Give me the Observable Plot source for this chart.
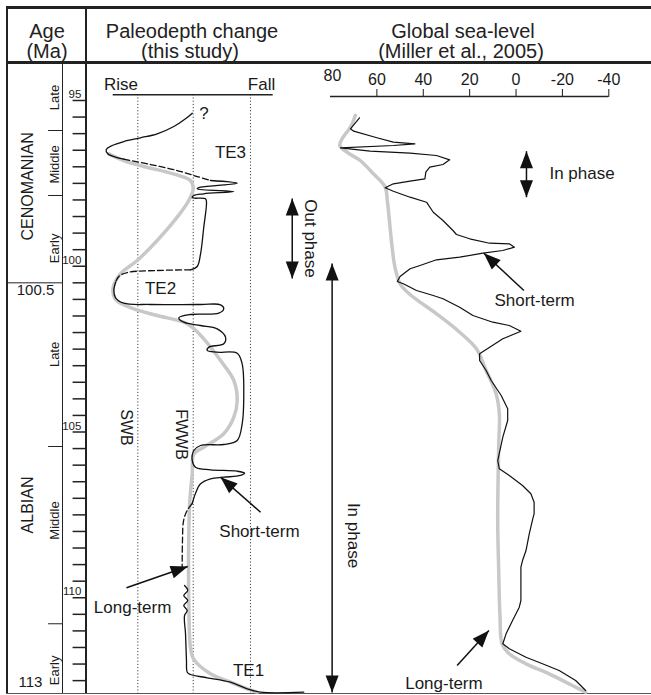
<!DOCTYPE html>
<html><head><meta charset="utf-8">
<script src="https://cdn.jsdelivr.net/npm/d3@7"></script>
<script src="https://cdn.jsdelivr.net/npm/@observablehq/plot@0.6"></script>
<style>
body{margin:0;background:#fff}
#wrap{position:relative;width:651px;height:695px;overflow:hidden;background:#fff;font-family:"Liberation Sans",Arial,Helvetica,sans-serif;color:#222}
.ln{position:absolute;background:#222}
.ht{position:absolute;font-size:20px;line-height:20px;white-space:nowrap;transform:translate(-50%,-50%)}
</style></head><body><div id="wrap"></div><script>
// ---------- DATA ----------
const headerAge = ["Age", "(Ma)"];
const headerDepth = ["Paleodepth change", "(this study)"];
const headerSea = ["Global sea-level", "(Miller et al., 2005)"];

const ageTicks = [95,95.5,96,96.5,97,97.5,98,98.5,99,99.5,100,100.5,101,101.5,102,102.5,103,103.5,104,104.5,105,105.5,106,106.5,107,107.5,108,108.5,109,109.5,110,110.5,111,111.5,112,112.5];
const ageLabels = [95, 100, 105, 110];
const stages = ["CENOMANIAN", "ALBIAN"];
const stageAt = [97.59, 107.2];
const substages = ["Late", "Middle", "Early", "Late", "Middle", "Early"];
const substageAt = [94.91, 96.93, 99.46, 102.66, 107.67, 112.19];
const substageBounds = [95.905, 97.866, 105.437, 110.785];
const stageBoundary = 100.5;
const edgeLabels = ["100.5", "113"];
const edgeAt = [100.73, 112.56];

const seaTicks = [60, 40, 20, 0, -20, -40];
const barriers = [15.4, 50, 85.8];   // SWB, FWWB, third level (relative depth units)

// paleodepth change (black), [age Ma, relative depth]
const paleoSolid1 = [[95.383,49.4],[95.552,45.2],[95.784,37.9],[96.005,27.5],[96.125,17.1],[96.237,6.6],[96.357,-0.6],[96.487,-4.4],[96.608,-3.4],[96.71,1.4],[96.771,6.6]];
const paleoDash1 = [[96.771,6.6],[96.931,23.3],[97.112,40],[97.293,52.5],[97.413,60.8]];
const paleoSolid2 = [[97.413,60.8],[97.495,77.5],[97.615,54.6],[97.664,52.5],[97.745,75.4],[97.814,56.6],[97.866,50.4],[97.935,49.4],[97.965,57.7],[98.068,58.3],[98.822,56.6],[99.624,54.6],[100.008,52.5],[100.107,48.3]];
const paleoDash2 = [[100.107,48.3],[100.128,27.5],[100.189,8.75],[100.309,3.5],[100.481,1.5]];
const paleoSolid3 = [[100.481,1.5],[100.731,0.4],[100.943,1.4],[101.115,6.6],[101.154,23.3],[101.154,54.6],[101.163,67.1],[101.284,69.1],[101.416,66],[101.456,48.3],[101.555,41],[101.688,44.1],[101.787,54.6],[101.887,65],[102.14,70.2],[102.339,69.1],[102.442,59.75],[102.541,58.75],[102.593,65],[102.623,77.5],[102.943,80.6],[103.95,81.6],[104.753,80.6],[105.256,77.5],[105.377,69.1],[105.407,54.6],[105.558,50.4],[105.86,49.4],[106.062,51.4],[106.14,60.8],[106.183,77.5],[106.243,82.1],[106.312,79.6],[106.364,69.1],[106.412,60.8],[106.563,54.6],[106.855,51.4],[107.157,49.4]];
const paleoDash3 = [[107.157,49.4],[107.368,46.25],[107.67,44],[108.273,43.3],[109.088,43.1]];
const paleoSolid4 = [[109.63,44.6],[109.781,46.6],[109.932,44.1],[110.083,46.6],[110.234,44.1],[110.385,46.25],[110.535,44.6],[111.088,45.2],[111.893,45.8],[112.246,46.25],[112.315,48.3],[112.415,58.75],[112.548,73.3],[112.747,83.75],[112.849,92.1],[112.849,119.1]];
// paleodepth long-term trend (grey)
const paleoLong = [[96.608,-2.75],[96.81,6.6],[96.991,19.1],[97.163,33.75],[97.314,44.1],[97.413,48.3],[97.664,50],[98.017,47.25],[98.52,40],[99.223,27.5],[99.827,15],[100.228,4.6],[100.632,0],[100.93,0.6],[101.05,2.5],[101.284,12.9],[101.486,27.5],[101.736,46.25],[102.189,56.6],[102.843,67.1],[103.446,75.4],[104.05,77.5],[104.554,75.4],[105.054,69.1],[105.459,56.6],[105.658,50.4],[106.261,49.4],[107.066,47.9],[108.062,47.25],[110.083,47.25],[111.492,48.3],[111.86,50.4],[112.294,60.8],[112.548,73.3],[112.747,83.75],[112.849,90]];

// global sea level (Miller et al., 2005), [age Ma, metres]
const seaLevel = [[95.522,67.5],[95.854,71.4],[95.926,70],[96.125,60],[96.258,52.9],[96.306,43.6],[96.357,52.9],[96.427,75.7],[96.529,62.9],[96.59,45.7],[96.659,34.3],[96.789,28.6],[96.931,31.5],[97.012,37.2],[97.163,38.9],[97.362,39.3],[97.434,45.7],[97.513,52.9],[97.634,56.4],[97.736,52.9],[97.917,45.7],[98.068,38.6],[98.37,35.7],[98.62,31.5],[98.922,27.2],[99.042,25.7],[99.172,20],[99.305,11.4],[99.323,2.9],[99.425,0.7],[99.525,5.7],[99.606,14.3],[99.727,24.3],[99.805,34.3],[99.977,41.4],[100.077,45.7],[100.309,50],[100.46,51.2],[100.529,48.6],[100.731,42.9],[100.882,35.7],[100.982,31.5],[101.235,24.3],[101.486,18.6],[101.688,10],[101.787,2.9],[101.959,-2.1],[102.189,5.7],[102.641,15.7],[102.843,15.7],[103.145,12.9],[103.446,10.7],[103.899,6.4],[104.3,3.6],[104.653,3.6],[105.157,5.7],[105.86,7.9],[106.11,7.2],[106.312,2.9],[106.614,-2.8],[106.864,-6.4],[107.118,-7.8],[107.468,-7.8],[107.57,-7.4],[108.071,-5.7],[108.575,-4.3],[108.877,-2.8],[109.078,-2.1],[110.083,-2.1],[110.285,-1.4],[110.686,1.5],[111.088,4.3],[111.389,5.7],[111.54,2.9],[111.794,-4.3],[111.993,-11.4],[112.195,-18.6],[112.497,-25.7],[112.798,-30]];
const seaLong = [[95.452,69.3],[95.805,71.4],[96.155,75],[96.357,76],[96.56,72.9],[96.81,67.2],[97.211,61.5],[97.615,56.4],[98.017,55.5],[98.62,54.6],[99.323,53.6],[100.029,52.2],[100.529,50],[100.852,45.7],[101.434,34.3],[101.99,24.3],[102.49,17.1],[103.145,12.9],[103.848,8.6],[104.451,7.2],[105.459,7.5],[107.67,7.9],[109.078,7.5],[110.587,6.9],[111.389,6],[111.691,2.9],[111.993,-4.3],[112.294,-14.3],[112.647,-24.3],[112.849,-30]];

// annotations
const paleoNotes = [{t:"?",u:56.75,a:95.392},{t:"TE3",u:73.3,a:96.56},{t:"TE2",u:29.6,a:100.662},{t:"TE1",u:84.6,a:112.195},{t:"Short-term",u:91.4,a:108.0},{t:"Long-term",u:12.1,a:110.285}];
const paleoVertNotes = [{t:"SWB",u:8.3,a:104.864},{t:"FWWB",u:42.5,a:105.075}];
const paleoArrows = [{x1:92.1,y1:107.419,x2:67.1,y2:106.363,rot:-49},{x1:8.3,y1:109.7,x2:46.6,y2:109.057,rot:71}];
const seaNotesStart = [{t:"In phase",v:-14.4,a:97.202}];
const seaNotes = [{t:"Short-term",v:-8.0,a:101.033},{t:"Long-term",v:31.1,a:112.578}];
const seaVertNotes = [{t:"Out phase",v:88.6,a:99.163},{t:"In phase",v:70.1,a:108.122}];
const seaArrows = [{x1:-3.4,y1:100.731,x2:13.9,y2:99.606,rot:-47},{x1:25.4,y1:112.044,x2:11.7,y2:110.988,rot:42}];
const phaseArrows = [{v:96.5,a1:97.956,a2:100.37},{v:79.3,a1:99.917,a2:112.858},{v:-4.5,a1:96.529,a2:97.917}];

// ---------- LAYOUT ----------
const ff = '"Liberation Sans", Arial, Helvetica, sans-serif';
const wrap = document.getElementById("wrap");
const K = 33.15; // px per Ma
const yDom = top => [95 + (top - 100) / K, 95 + (693 - 100) / K];
const svgStyle = fs => `position:absolute;left:0;top:0;background:transparent;overflow:visible;font-family:${ff};font-size:${fs}px;color:#1a1a1a;`;
const base = (top, left, right, fs) => ({
  width: 651, height: 695, marginTop: top, marginBottom: 2, marginLeft: left, marginRight: 651 - right,
  style: svgStyle(fs), y: {domain: yDom(top), reverse: true, axis: null}
});
const head = {draw(ctx) { ctx.moveTo(0, 0); ctx.lineTo(6.5, 17); ctx.lineTo(-6.5, 17); ctx.closePath(); }};

function addLine(l, t, w, h, c) {
  const d = document.createElement("div"); d.className = "ln";
  Object.assign(d.style, {left: l + "px", top: t + "px", width: w + "px", height: h + "px"});
  if (c) d.style.background = c;
  wrap.appendChild(d);
}
function addText(txt, cx, cy) {
  const d = document.createElement("div"); d.className = "ht"; d.textContent = txt;
  d.style.left = cx + "px"; d.style.top = cy + "px"; wrap.appendChild(d);
}
addLine(6, 6, 645, 3);
addLine(6, 61, 645, 3);
addLine(6, 6, 1.5, 688);
addLine(85.3, 6, 1.5, 688);
addLine(61.5, 63, 1, 631);
addLine(6, 692.5, 645, 1.5, "#555");
addText(headerAge[0], 47, 31); addText(headerAge[1], 47, 51);
addText(headerDepth[0], 192, 31); addText(headerDepth[1], 190, 51);
addText(headerSea[0], 463, 31); addText(headerSea[1], 461, 51);

// age column
const agePlot = Plot.plot({
  ...base(63, 7, 86, 12),
  x: {domain: [0, 1], axis: null},
  marks: [
    Plot.ruleY(ageTicks, {y: d => d, x1: 0.83, x2: 1, stroke: "#222", strokeWidth: 1.5}),
    Plot.text(ageLabels, {x: 0.935, y: d => d, text: d => String(d), textAnchor: "end", dy: -6, fontSize: 11.5, fill: "#1a1a1a"}),
    Plot.ruleY([stageBoundary], {y: d => d, x1: 0, x2: 0.696, stroke: "#222", strokeWidth: 1}),
    Plot.ruleY(substageBounds, {y: d => d, x1: 0.52, x2: 0.696, stroke: "#222", strokeWidth: 1}),
    Plot.text(stages, {x: 0.253, y: (d, i) => stageAt[i], text: d => d, rotate: -90, fontSize: 16}),
    Plot.text(substages, {x: 0.595, y: (d, i) => substageAt[i], text: d => d, rotate: -90, fontSize: 13}),
    Plot.text(edgeLabels, {x: (d, i) => i ? 0.29 : 0.354, y: (d, i) => edgeAt[i], text: d => d, fontSize: 15})
  ]
});

// paleodepth panel
const seg = (arrs) => arrs.flatMap((s, k) => s.map(p => ({a: p[0], u: p[1], k})));
const depthPlot = Plot.plot({
  ...base(94.3, 112.7, 272.7, 16),
  x: {domain: [0, 100], axis: null},
  marks: [
    Plot.ruleY([yDom(94.3)[0]], {y: d => d, stroke: "#222", strokeWidth: 1.5}),
    Plot.text(["Rise", "Fall"], {x: (d, i) => i ? 92.7 : 4.9, frameAnchor: "top", lineAnchor: "middle", dy: -10, text: d => d, fontSize: 17}),
    Plot.ruleX(barriers, {x: d => d, stroke: "#222", strokeWidth: 1, strokeDasharray: "1,2.2"}),
    Plot.line(paleoLong, {x: d => d[1], y: d => d[0], stroke: "#c8c8c8", strokeWidth: 3.5, curve: "catmull-rom"}),
    Plot.line(seg([paleoSolid1, paleoSolid2, paleoSolid3, paleoSolid4]), {x: "u", y: "a", z: "k", stroke: "#111", strokeWidth: 1.3, curve: "catmull-rom"}),
    Plot.line(seg([paleoDash1, paleoDash2, paleoDash3]), {x: "u", y: "a", z: "k", stroke: "#111", strokeWidth: 1.3, strokeDasharray: "6,3", curve: "catmull-rom"}),
    Plot.text(paleoNotes, {x: "u", y: "a", text: "t", fontSize: 17}),
    Plot.text(paleoVertNotes, {x: "u", y: "a", text: "t", rotate: 90, fontSize: 16}),
    Plot.link(paleoArrows, {x1: "x1", y1: "y1", x2: "x2", y2: "y2", stroke: "#111", strokeWidth: 1.5}),
    Plot.dot(paleoArrows, {x: "x2", y: "y2", rotate: "rot", symbol: head, r: 8, fill: "#111", stroke: "none"})
  ]
});

// sea-level panel
const headsFor = arr => arr.flatMap(d => [{v: d.v, a: d.a1, rot: 0}, {v: d.v, a: d.a2, rot: 180}]);
const seaPlot = Plot.plot({
  ...base(96, 330, 608.3, 16),
  x: {domain: [80, -40], axis: "top", ticks: seaTicks, tickSize: 8, tickPadding: 4, tickFormat: d => String(d), label: null},
  marks: [
    Plot.ruleY([yDom(96)[0]], {y: d => d, stroke: "#222", strokeWidth: 1.5}),
    Plot.text(["80"], {x: 80, frameAnchor: "top", lineAnchor: "middle", dy: -21, dx: 2, text: d => d, fontSize: 16}),
    Plot.line(seaLong, {x: d => d[1], y: d => d[0], stroke: "#c8c8c8", strokeWidth: 3.5, curve: "catmull-rom"}),
    Plot.line(seaLevel, {x: d => d[1], y: d => d[0], stroke: "#111", strokeWidth: 1.2}),
    Plot.link(phaseArrows, {x1: "v", x2: "v", y1: "a1", y2: "a2", stroke: "#111", strokeWidth: 1.5}),
    Plot.dot(headsFor(phaseArrows), {x: "v", y: "a", rotate: "rot", symbol: head, r: 8, fill: "#111", stroke: "none"}),
    Plot.link(seaArrows, {x1: "x1", y1: "y1", x2: "x2", y2: "y2", stroke: "#111", strokeWidth: 1.5}),
    Plot.dot(seaArrows, {x: "x2", y: "y2", rotate: "rot", symbol: head, r: 8, fill: "#111", stroke: "none"}),
    Plot.text(seaNotesStart, {x: "v", y: "a", text: "t", textAnchor: "start", fontSize: 17}),
    Plot.text(seaNotes, {x: "v", y: "a", text: "t", fontSize: 17}),
    Plot.text(seaVertNotes, {x: "v", y: "a", text: "t", rotate: 90, fontSize: 17})
  ]
});

wrap.appendChild(agePlot);
wrap.appendChild(depthPlot);
wrap.appendChild(seaPlot);
</script></body></html>
